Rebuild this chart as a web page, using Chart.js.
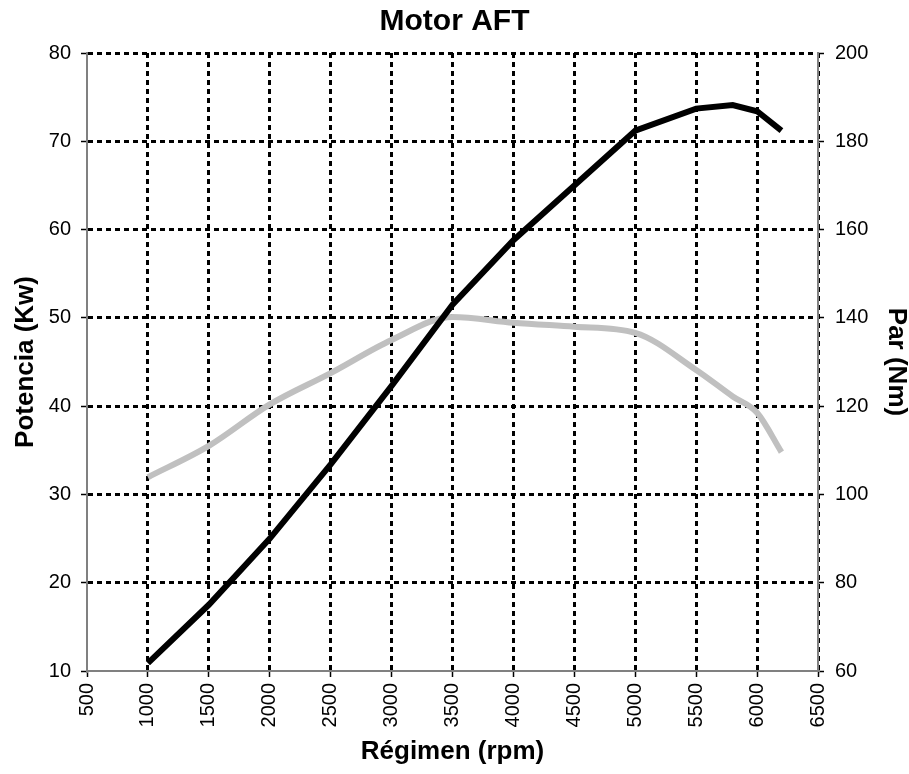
<!DOCTYPE html>
<html>
<head>
<meta charset="utf-8">
<script src="https://cdn.jsdelivr.net/npm/chart.js@4"></script>
<style>
  body { margin: 0; background: #fff; }
  #wrap { width: 909px; height: 774px; }
</style>
</head>
<body>
<div id="wrap"><canvas id="myChart" width="909" height="774"></canvas></div>
<script>
// valores
let rpm = [1000, 1500, 2000, 2500, 3000, 3500, 4000, 4500, 5000, 5500, 5800, 6000, 6200];
let potencia = [10.9, 17.5, 25.0, 33.4, 42.3, 51.5, 58.8, 65.0, 71.2, 73.7, 74.1, 73.4, 71.2];
let par = [103.9, 111.0, 120.4, 127.5, 135.0, 140.2, 138.9, 138.0, 136.6, 128.2, 122.2, 118.5, 109.6];

let rpmMin = 500, rpmMax = 6500, rpmStep = 500;
let kwMin = 10, kwMax = 80, kwStep = 10;
let nmMin = 60, nmMax = 200, nmStep = 20;

const fuente = "'Liberation Sans', Arial, sans-serif";
const gris = "#808080";

const datPotencia = rpm.map((x, i) => ({ x: x, y: potencia[i] }));
const datPar = rpm.map((x, i) => ({ x: x, y: par[i] }));

const ctx = document.getElementById("myChart").getContext("2d");
const myChart = new Chart(ctx, {
  type: "line",
  data: {
    datasets: [
      {
        label: "Potencia",
        data: datPotencia,
        yAxisID: "y",
        borderColor: "#000000",
        borderWidth: 6,
        pointRadius: 0,
        tension: 0,
        order: 0,
      },
      {
        label: "Par",
        data: datPar,
        yAxisID: "y1",
        borderColor: "#c0c0c0",
        borderWidth: 6,
        pointRadius: 0,
        cubicInterpolationMode: "monotone",
        order: 1,
      },
    ],
  },
  options: {
    responsive: false,
    animation: false,
    layout: { padding: 0 },
    plugins: {
      legend: { display: false },
      tooltip: { enabled: false },
      title: {
        display: true,
        text: "Motor AFT",
        color: "#000",
        font: { family: fuente, size: 30, weight: "bold", lineHeight: 1.2 },
        padding: { top: 4, bottom: 13 },
      },
    },
    scales: {
      x: {
        type: "linear",
        min: rpmMin,
        max: rpmMax,
        afterFit: (s) => { s.height = 103; },
        ticks: {
          stepSize: rpmStep,
          minRotation: 90,
          maxRotation: 90,
          padding: 6,
          color: "#000",
          font: { family: fuente, size: 20 },
          callback: (v) => String(v),
        },
        grid: {
          color: (c) => (c.tick && c.tick.value === rpmMin ? "rgba(0,0,0,0)" : "#000"),
          lineWidth: 3,
          tickColor: "#000",
          tickLength: 6,
          tickWidth: 1.5,
        },
        border: { color: gris, width: 2, dash: [5, 4] },
        title: {
          display: true,
          text: "Régimen (rpm)",
          color: "#000",
          font: { family: fuente, size: 26, weight: "bold", lineHeight: 1 },
          padding: { top: 0, bottom: 9 },
        },
      },
      y: {
        position: "left",
        min: kwMin,
        max: kwMax,
        afterFit: (s) => { s.width = 87; },
        ticks: {
          stepSize: kwStep,
          padding: 10,
          color: "#000",
          font: { family: fuente, size: 20 },
        },
        grid: {
          color: (c) => (c.tick && c.tick.value === kwMin ? "rgba(0,0,0,0)" : "#000"),
          lineWidth: 3,
          tickColor: "#000",
          tickLength: 6,
          tickWidth: 1.5,
        },
        border: { color: gris, width: 2, dash: [5, 4] },
        title: {
          display: true,
          text: "Potencia (Kw)",
          color: "#000",
          font: { family: fuente, size: 26, weight: "bold", lineHeight: 1 },
          padding: { top: 13, bottom: 0 },
        },
      },
      y1: {
        position: "right",
        min: nmMin,
        max: nmMax,
        afterFit: (s) => { s.width = 91; },
        ticks: {
          stepSize: nmStep,
          padding: 11,
          color: "#000",
          font: { family: fuente, size: 20 },
        },
        grid: {
          drawOnChartArea: false,
          tickColor: "#000",
          tickLength: 6,
          tickWidth: 1.5,
        },
        border: { color: gris, width: 2 },
        title: {
          display: true,
          text: "Par (Nm)",
          color: "#000",
          font: { family: fuente, size: 26, weight: "bold", lineHeight: 1 },
          padding: { top: 0, bottom: 0 },
        },
      },
    },
  },
});
</script>
</body>
</html>
